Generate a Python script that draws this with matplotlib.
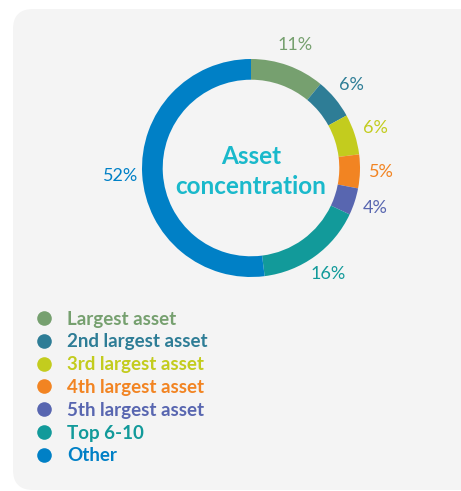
import matplotlib.pyplot as plt
from matplotlib.patches import FancyBboxPatch
from matplotlib.lines import Line2D

plt.rcParams["font.family"] = ["Lato", "DejaVu Sans"]

categories = ["Largest asset", "2nd largest asset", "3rd largest asset",
              "4th largest asset", "5th largest asset", "Top 6-10", "Other"]
shares = [11, 6, 6, 5, 4, 16, 52]
colors = ["#76a06f", "#2e7d96", "#c3cc1e", "#f28422", "#5866b0", "#129a9a", "#0080c6"]
center_title = "Asset\nconcentration"


def main():
    W, H = 461, 491
    fig = plt.figure(figsize=(W / 100, H / 100), dpi=100, facecolor="white")

    # background panel (pixel coordinates)
    bg = fig.add_axes([0, 0, 1, 1])
    bg.set_xlim(0, W)
    bg.set_ylim(H, 0)
    bg.axis("off")
    bg.add_patch(FancyBboxPatch((13, 9), 500, 481,
                                boxstyle="round,pad=0,rounding_size=20",
                                facecolor="#f4f4f4", edgecolor="none"))

    # donut
    cx, cy, r = 251, 168, 109
    ax = fig.add_axes([(cx - r) / W, (H - cy - r) / H, 2 * r / W, 2 * r / H])
    wedges, _, pct = ax.pie(shares, colors=colors, startangle=90, counterclock=False,
                            radius=1, wedgeprops=dict(width=0.19, linewidth=0),
                            autopct=lambda p: f"{p:.0f}%", pctdistance=1.2,
                            textprops=dict(fontsize=13))
    for t, c in zip(pct, colors):
        t.set_color(c)
    ax.set_xlim(-1, 1)
    ax.set_ylim(-1, 1)
    ax.text(0, -0.03, center_title, ha="center", va="center", fontsize=17.5,
            fontweight="bold", color="#1ab9cb", linespacing=1.35)

    # legend
    handles = [Line2D([], [], marker="o", linestyle="none", markersize=10.5,
                      markerfacecolor=c, markeredgecolor="none") for c in colors]
    fig.legend(handles, categories, loc="upper left",
               bbox_to_anchor=(36.5 / W, 1 - 310.5 / H), frameon=False,
               labelcolor="markerfacecolor", prop=dict(size=13.5, weight="bold"),
               handlelength=0.8, handletextpad=0.83, labelspacing=0.31,
               borderpad=0, borderaxespad=0)

    fig.savefig("out.png", dpi=100)
    plt.close(fig)


if __name__ == "__main__":
    main()
